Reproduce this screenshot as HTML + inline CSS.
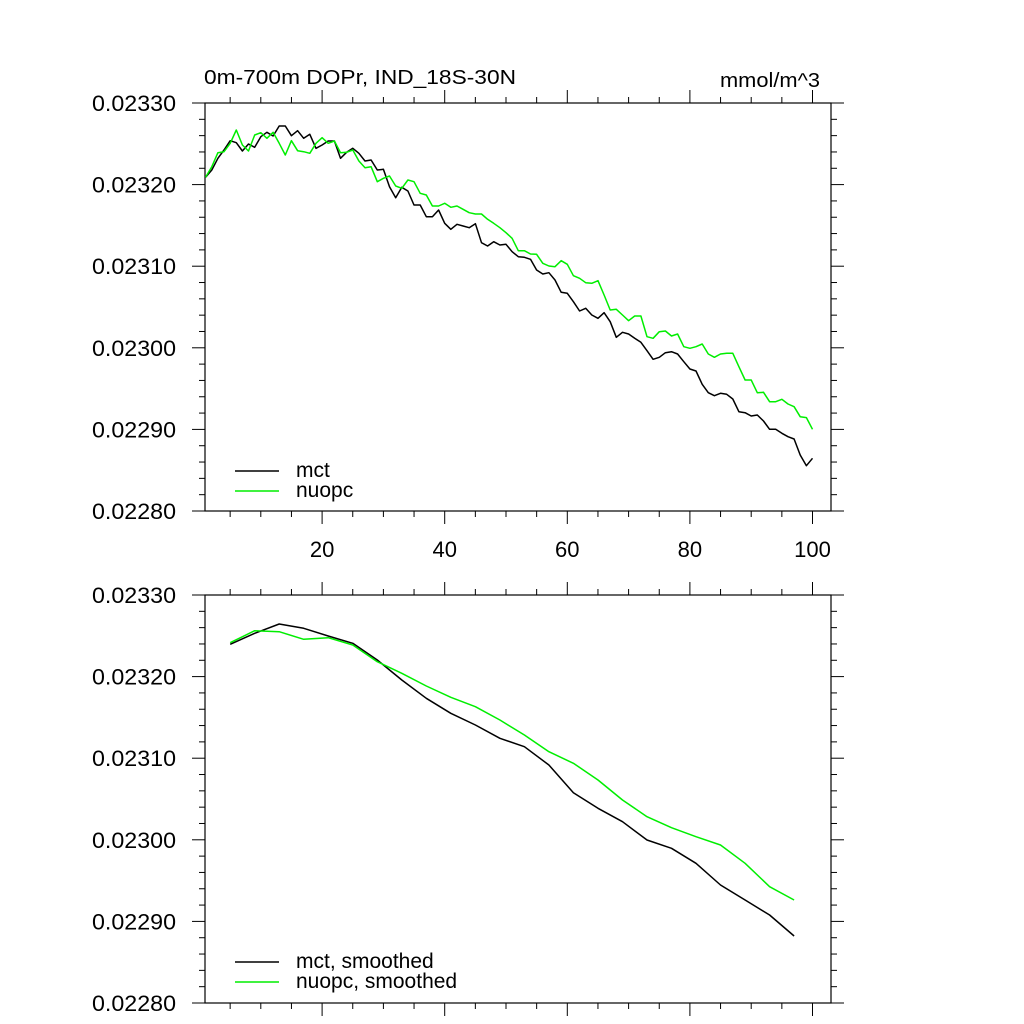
<!DOCTYPE html>
<html><head><meta charset="utf-8"><style>
html,body{margin:0;padding:0;background:#fff}
svg{display:block;font-family:"Liberation Sans",sans-serif}
</style></head><body>
<svg id="chart" width="1024" height="1024" viewBox="0 0 1024 1024" xmlns="http://www.w3.org/2000/svg">
<text x="204" y="84" font-size="20" textLength="312" lengthAdjust="spacingAndGlyphs">0m-700m DOPr, IND_18S-30N</text>
<text x="720" y="87" font-size="20" textLength="100" lengthAdjust="spacingAndGlyphs">mmol/m^3</text>
<g id="top"></g>
<g id="bottom"></g>
</svg>
<script>
// values in units of 1e-5 mmol/m^3
const topX = Array.from({length:100},(_,k)=>k+1);
const mctTop = [2320.89,2321.79,2323.22,2324.24,2325.38,2325.13,2324.12,2324.98,2324.57,2325.87,2326.41,2325.96,2327.18,2327.18,2325.99,2326.61,2325.67,2326.16,2324.45,2324.85,2325.34,2325.34,2323.22,2323.96,2324.45,2323.84,2322.89,2323.01,2321.79,2321.87,2319.74,2318.39,2319.67,2319.22,2317.5,2317.5,2316.07,2316.07,2316.89,2315.26,2314.52,2315.13,2314.93,2314.72,2315.21,2312.88,2312.48,2313.0,2312.6,2312.68,2311.78,2311.16,
2311.09,2310.85,2309.53,2309.04,2309.2,2308.31,2306.8,2306.68,2305.65,2304.51,2304.84,2304.02,2303.61,2304.3,2303.2,2301.29,2301.9,2301.69,2301.16,2300.67,2299.64,2298.59,2298.84,2299.4,2299.52,2299.24,2298.3,2297.4,2297.16,2295.53,2294.5,2294.13,2294.42,2294.3,2293.73,2292.17,2292.05,2291.64,2291.76,2291.03,2290.01,2290.01,2289.52,2289.1,2288.82,2286.86,2285.55,2286.46];
const nuopcTop = [2320.89,2322.19,2323.91,2324.03,2325.06,2326.69,2324.85,2324.12,2326.08,2326.36,2325.67,2326.41,2325.06,2323.63,2325.38,2324.15,2324.03,2323.84,2325.06,2325.75,2325.06,2325.34,2323.91,2323.96,2324.24,2322.89,2322.07,2322.19,2320.36,2320.77,2321.05,2319.83,2319.55,2320.56,2320.36,2318.93,2318.73,2317.38,2317.38,2317.71,2317.22,2317.38,2316.97,2316.56,2316.4,2316.4,2315.75,2315.26,2314.72,2314.11,2313.42,2311.9,
2311.9,2311.5,2311.46,2310.35,2310.02,2309.94,2310.67,2310.23,2308.84,2308.52,2307.98,2307.9,2308.22,2306.47,2304.63,2304.72,2304.02,2303.32,2303.9,2303.9,2301.36,2301.16,2301.97,2302.06,2301.45,2301.69,2300.13,2299.94,2300.13,2300.47,2299.24,2298.84,2299.24,2299.33,2299.33,2297.68,2296.05,2296.05,2294.5,2294.55,2293.39,2293.39,2293.69,2293.11,2292.78,2291.56,2291.44,2290.01];
const botX = [5,9,13,17,21,25,29,33,37,41,45,49,53,57,61,65,69,73,77,81,85,89,93,97];
const mctSmooth = [2323.96,2325.31,2326.45,2325.92,2324.98,2324.08,2322.03,2319.58,2317.34,2315.5,2314.07,2312.44,2311.41,2309.17,2305.77,2303.86,2302.22,2299.98,2298.96,2297.12,2294.46,2292.62,2290.78,2288.21];
const nuopcSmooth = [2324.15,2325.62,2325.5,2324.57,2324.77,2323.87,2321.83,2320.4,2318.85,2317.46,2316.31,2314.68,2312.84,2310.8,2309.37,2307.33,2304.88,2302.83,2301.48,2300.38,2299.36,2297.12,2294.25,2292.62];
const yTicks = [2280,2290,2300,2310,2320,2330];
const yTickLabels = ["0.02280","0.02290","0.02300","0.02310","0.02320","0.02330"];
const xTicks = [20,40,60,80,100];
const xTickLabels = ["20","40","60","80","100"];

const NS="http://www.w3.org/2000/svg";
const L=205,R=831;
const xs=i=>199.5+6.13*i;
function mk(g,tag,attrs){const e=document.createElementNS(NS,tag);for(const k in attrs)e.setAttribute(k,attrs[k]);g.appendChild(e);return e;}
function panel(g,top,bot,series,names,legendLabels,legY,showXLabels){
  const ys=v=>bot-(v-2280)/50*(bot-top);
  const frame=mk(g,'rect',{x:L,y:top,width:R-L,height:bot-top,fill:'none',stroke:'#000','stroke-width':1.2});
  
  
  for(let v=2280;v<=2330.001;v+=2){
    const maj=Math.abs(v/10-Math.round(v/10))<1e-6;const len=maj?13:6;const y=ys(v);
    mk(g,'line',{x1:L-len,x2:L,y1:y,y2:y,stroke:'#000','stroke-width':1});
    mk(g,'line',{x1:R,x2:R+len,y1:y,y2:y,stroke:'#000','stroke-width':1});
  }
  for(let i=5;i<=100;i+=5){
    const maj=i%20===0;const len=maj?13:6;const x=xs(i);
    mk(g,'line',{x1:x,x2:x,y1:bot,y2:bot+len,stroke:'#000','stroke-width':1});
    mk(g,'line',{x1:x,x2:x,y1:top-len,y2:top,stroke:'#000','stroke-width':1});
  }
  yTicks.forEach((v,k)=>{
    const t=mk(g,'text',{x:92,y:ys(v)+8,'font-size':22,textLength:84,lengthAdjust:'spacingAndGlyphs'});t.textContent=yTickLabels[k];
    
    
  });
  if(showXLabels) xTicks.forEach((v,k)=>{
    const t=mk(g,'text',{x:xs(v),y:bot+46,'font-size':22,'text-anchor':'middle'});t.textContent=xTickLabels[k];
    
    
  });
  series.forEach((s,k)=>{
    const pts=s.x.map((xv,j)=>xs(xv).toFixed(1)+','+ys(s.y[j]).toFixed(1)).join(' ');
    const p=mk(g,'polyline',{points:pts,fill:'none',stroke:s.c,'stroke-width':1.5,'stroke-linejoin':'round'});
    
    
    const ly=legY+k*20;
    const ll=mk(g,'line',{x1:235,x2:279,y1:ly,y2:ly,stroke:s.c,'stroke-width':1.5});
    
    
    const lt=mk(g,'text',{x:296,y:ly+6,'font-size':21});lt.textContent=legendLabels[k];
    
    
  });
}
panel(document.getElementById('top'),103,511,
  [{x:topX,y:mctTop,c:'#000'},{x:topX,y:nuopcTop,c:'#00ee00'}],
  ['mct-line','nuopc-line'],['mct','nuopc'],471,true);
panel(document.getElementById('bottom'),595,1003,
  [{x:botX,y:mctSmooth,c:'#000'},{x:botX,y:nuopcSmooth,c:'#00ee00'}],
  ['mct-smoothed-line','nuopc-smoothed-line'],['mct, smoothed','nuopc, smoothed'],962,false);
</script>
</body></html>
